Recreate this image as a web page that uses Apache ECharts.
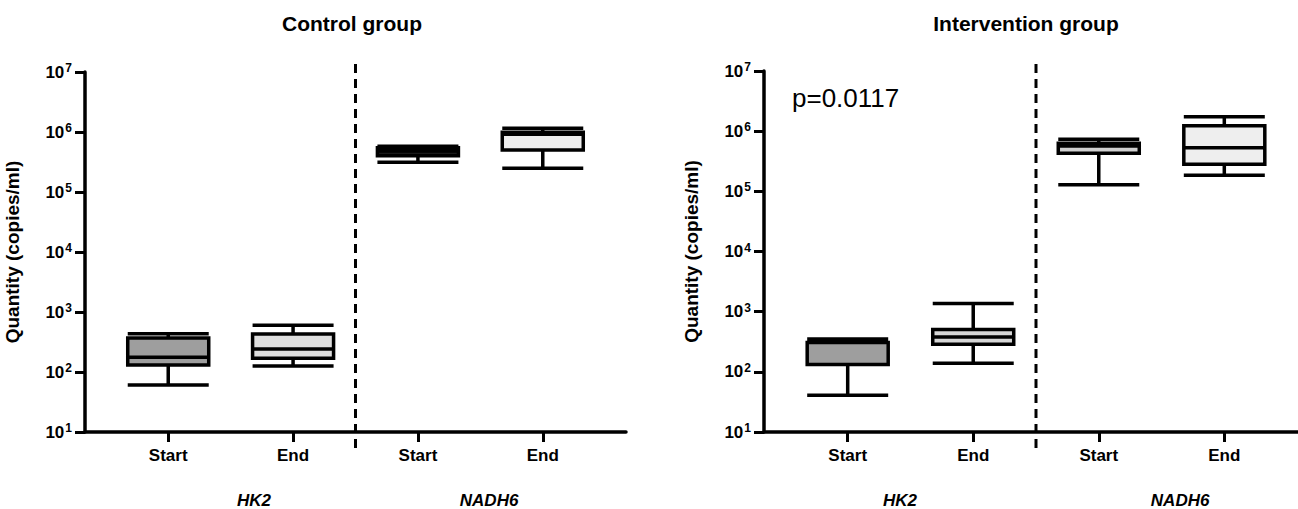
<!DOCTYPE html>
<html><head><meta charset="utf-8">
<script src="https://cdn.jsdelivr.net/npm/echarts@6/dist/echarts.min.js"></script>
<style>html,body{margin:0;padding:0;background:#fff}#c{width:1298px;height:509px}</style>
</head><body><div id="c"></div>
<script>
// ---------- data ----------
const panelTitles = ['Control group', 'Intervention group'];
const timeLabels = ['Start', 'End', 'Start', 'End'];
const geneLabels = ['HK2', 'NADH6'];
const yAxisName = 'Quantity (copies/ml)';
const pValueText = 'p=0.0117';
// each box: [min, Q1, median, Q3, max]
const controlHK2Start = [61, 131, 176, 369, 435];
const controlHK2End = [126, 169, 242, 430, 600];
const controlNADH6Start = [313000, 403000, 483000, 548000, 578000];
const controlNADH6End = [248000, 501000, 916000, 989000, 1150000];
const interventionHK2Start = [41, 132, 307, 307, 352];
const interventionHK2End = [139, 288, 381, 506, 1368];
const interventionNADH6Start = [129000, 429000, 568000, 629000, 733000];
const interventionNADH6End = [185000, 281000, 531000, 1230000, 1740000];
const boxPositions = [0, 1, 2, 3];
const dividerPosition = 1.5;
const geneLabelPositions = [[0.687, 2.57], [0.417, 2.648]];

// ---------- styling / layout ----------
const FONT = '"Liberation Sans", Arial, Helvetica, sans-serif';
const fillColors = [['#9e9e9e', '#dddddd', '#1a1a1a', '#eeeeee'], ['#9e9e9e', '#d6d6d6', '#d0d0d0', '#eeeeee']];
const panelBoxes = [
  [controlHK2Start, controlHK2End, controlNADH6Start, controlNADH6End],
  [interventionHK2Start, interventionHK2End, interventionNADH6Start, interventionNADH6End]
];
const layout = [
  { left: 85, top: 72, width: 541, height: 360, titleX: 352 },
  { left: 764, top: 71, width: 544, height: 361, titleX: 1026 }
];
const XMIN = -2 / 3, XMAX = 11 / 3;

const option = {
  animation: false,
  backgroundColor: '#ffffff',
  grid: [], xAxis: [], yAxis: [], series: [], graphic: []
};

layout.forEach((L, p) => {
  const g = option.grid.length;
  option.grid.push({ left: L.left, top: L.top, width: L.width, height: L.height, containLabel: false, outerBoundsMode: 'none' });
  option.grid.push({ left: L.left, top: 61, width: L.width, height: 387, containLabel: false, outerBoundsMode: 'none' });
  const xi = option.xAxis.length;
  option.xAxis.push({
    type: 'value', gridIndex: g, min: XMIN, max: XMAX, position: 'bottom',
    axisLine: { show: true, onZero: false, lineStyle: { color: '#000', width: 3.5 } },
    axisTick: { show: true, length: 10, customValues: boxPositions, lineStyle: { color: '#000', width: 3 } },
    axisLabel: {
      customValues: boxPositions, margin: 15,
      formatter: v => timeLabels[boxPositions.indexOf(v)],
      color: '#000', fontSize: 17, fontWeight: 'bold', fontFamily: FONT
    },
    splitLine: { show: false }
  });
  const gp = geneLabelPositions[p];
  option.xAxis.push({
    type: 'value', gridIndex: g, min: XMIN, max: XMAX, position: 'bottom',
    axisLine: { show: false, onZero: false }, axisTick: { show: false }, splitLine: { show: false },
    axisLabel: {
      customValues: gp, margin: 60,
      formatter: v => geneLabels[gp.indexOf(v)],
      color: '#000', fontSize: 17, fontWeight: 'bold', fontStyle: 'italic', fontFamily: FONT
    }
  });
  option.xAxis.push({ type: 'value', gridIndex: g + 1, min: XMIN, max: XMAX, show: false });
  const yi = option.yAxis.length;
  option.yAxis.push({
    type: 'log', logBase: 10, gridIndex: g, min: 10, max: 1e7, splitNumber: 6, position: 'left',
    name: yAxisName, nameLocation: 'middle', nameGap: 63,
    nameTextStyle: { color: '#000', fontSize: 19, fontWeight: 'bold', fontFamily: FONT },
    axisLine: { show: true, onZero: false, lineStyle: { color: '#000', width: 3.5 } },
    axisTick: { show: true, length: 10, lineStyle: { color: '#000', width: 3 } },
    minorTick: { show: false }, splitLine: { show: false }, minorSplitLine: { show: false },
    axisLabel: {
      margin: 13,
      formatter: v => '{b|10}{s|' + Math.round(Math.log10(v)) + '}',
      rich: {
        b: { fontSize: 17, fontWeight: 'bold', fontFamily: FONT, color: '#000', lineHeight: 20 },
        s: { fontSize: 12, fontWeight: 'bold', fontFamily: FONT, color: '#000', lineHeight: 12, verticalAlign: 'top', padding: [0, 0, 0, 1] }
      }
    }
  });
  option.yAxis.push({ type: 'value', gridIndex: g + 1, min: 0, max: 1, show: false });

  option.series.push({
    type: 'boxplot', xAxisIndex: xi, yAxisIndex: yi, boxWidth: [81, 81], silent: true,
    itemStyle: { borderColor: '#000', borderWidth: 3.5 },
    emphasis: { disabled: true },
    data: panelBoxes[p].map((b, i) => ({ value: [boxPositions[i]].concat(b), itemStyle: { color: fillColors[p][i], borderColor: '#000', borderWidth: 3.5 } }))
  });
  option.series.push({
    type: 'line', xAxisIndex: xi + 2, yAxisIndex: yi + 1, silent: true, symbol: 'none',
    data: [[dividerPosition, 0], [dividerPosition, 1]],
    lineStyle: { color: '#000', width: 3, type: [9, 6] }
  });
  option.graphic.push({
    type: 'text', x: L.titleX, y: 23, silent: true,
    style: { text: panelTitles[p], align: 'center', verticalAlign: 'middle', textAlign: 'center', textVerticalAlign: 'middle',
      fontSize: 21, fontWeight: 'bold', fontFamily: FONT, fill: '#000' }
  });
});
option.graphic.push({
  type: 'text', x: 792, y: 98, silent: true,
  style: { text: pValueText, align: 'left', verticalAlign: 'middle', textAlign: 'left', textVerticalAlign: 'middle',
    fontSize: 26, fontWeight: 'normal', fontFamily: FONT, fill: '#000' }
});

const chart = echarts.init(document.getElementById('c'), null, { renderer: 'svg' });
chart.setOption(option);
</script>
</body></html>
